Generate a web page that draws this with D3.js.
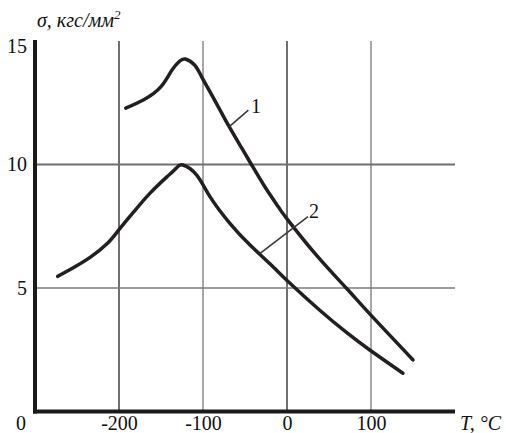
<!DOCTYPE html>
<html>
<head>
<meta charset="utf-8">
<script src="https://cdn.jsdelivr.net/npm/d3@7/dist/d3.min.js"></script>
<style>
  html, body { margin: 0; padding: 0; background: #fff; }
  svg { display: block; }
  text { font-family: "Liberation Serif", "Times New Roman", serif; fill: #111; }
</style>
</head>
<body>
<svg id="chart" width="506" height="433"></svg>
<script>
// Temperature ticks (°C) and stress ticks (kgf/mm²)
const xTicks = [-200, -100, 0, 100];
const yTicks = [5, 10, 15];
const yGrid = [5, 10];

// Curve 1: stress vs temperature
const curve1T = [-192, -170, -150, -137, -128, -121, -110, -101.6, -86, -70, -54, -42, -26, -10, 0, 35, 70.8, 98.5, 150];
const curve1S = [12.28, 12.63, 13.15, 13.82, 14.18, 14.27, 14.03, 13.55, 12.6, 11.6, 10.67, 9.98, 9.08, 8.27, 7.8, 6.33, 4.99, 3.95, 2.09];

// Curve 2
const curve2T = [-273, -254, -234, -214, -200, -182, -163, -143, -132, -124, -107.5, -91.7, -68, -44, -20, 3.6, 39, 70.8, 98.5, 138];
const curve2S = [5.47, 5.83, 6.25, 6.8, 7.36, 8.1, 8.84, 9.5, 9.85, 9.98, 9.57, 8.7, 7.62, 6.74, 5.97, 5.19, 4.1, 3.2, 2.49, 1.55];

// Curve labels with leader lines (data units)
const labelNames = ["1", "2"];
const leaderFrom = [[-68, 11.55], [-32, 6.4]];
const leaderTo = [[-46, 12.2], [25, 7.89]];
const labelAt = [[-37, 12.08], [32, 7.83]];

const svg = d3.select("#chart");
const x = d3.scaleLinear().domain([-300, 200]).range([35, 455]);
const y = d3.scaleLinear().domain([0, 15]).range([411.5, 41]);

// grid
svg.append("g").selectAll("line").data(xTicks).join("line")
  .attr("x1", d => x(d)).attr("x2", d => x(d))
  .attr("y1", y(15)).attr("y2", y(0))
  .attr("stroke", (d, i) => i % 2 === 0 ? "#6f6f6f" : "#8a8a8a")
  .attr("stroke-width", (d, i) => i % 2 === 0 ? 2 : 1.5);

svg.append("g").selectAll("line").data(yGrid).join("line")
  .attr("x1", x(-300)).attr("x2", x(200))
  .attr("y1", d => y(d)).attr("y2", d => y(d))
  .attr("stroke", d => d === 10 ? "#6f6f6f" : "#7d7d7d")
  .attr("stroke-width", d => d === 10 ? 2 : 1.5);

// axes
const gx = svg.append("g").attr("transform", `translate(0,${y(0)})`)
  .call(d3.axisBottom(x).tickValues(xTicks).tickSize(0).tickFormat(d => String(d)));
gx.select(".domain").remove();
gx.selectAll("text").attr("font-size", 20).attr("dy", null).attr("y", 18.5)
  .attr("font-family", "Liberation Serif, serif").attr("fill", "#111");

const gy = svg.append("g").attr("transform", `translate(${x(-300)},0)`)
  .call(d3.axisLeft(y).tickValues(yTicks).tickSize(0).tickPadding(8).tickFormat(d => String(d)));
gy.select(".domain").remove();
gy.selectAll("text").attr("font-size", 20)
  .attr("font-family", "Liberation Serif, serif").attr("fill", "#111")
  .attr("dy", d => d === 15 ? "0.55em" : "0.32em");

// origin label
svg.append("text").attr("x", x(-300) - 14).attr("y", y(0) + 18.5)
  .attr("text-anchor", "middle").attr("font-size", 20).text("0");

// axis lines
svg.append("line").attr("x1", x(-300)).attr("x2", x(-300))
  .attr("y1", y(15) - 1).attr("y2", y(0) + 2)
  .attr("stroke", "#1a1a1a").attr("stroke-width", 4);
svg.append("line").attr("x1", x(-300) - 2).attr("x2", x(200))
  .attr("y1", y(0)).attr("y2", y(0))
  .attr("stroke", "#1a1a1a").attr("stroke-width", 4);

// axis titles
const yt = svg.append("text").attr("x", 37).attr("y", 27)
  .attr("font-size", 20).attr("font-style", "italic");
yt.append("tspan").text("σ, кгс/мм");
yt.append("tspan").attr("font-size", 13).attr("dy", -8).text("2");

svg.append("text").attr("x", 460).attr("y", y(0) + 18.5)
  .attr("font-size", 20).attr("font-style", "italic").text("T, °C");

// curves
const line = d3.line().x(d => x(d[0])).y(d => y(d[1])).curve(d3.curveNatural);
const series = [d3.zip(curve1T, curve1S), d3.zip(curve2T, curve2S)];
svg.append("g").selectAll("path").data(series).join("path")
  .attr("d", line).attr("fill", "none")
  .attr("stroke", "#231f20").attr("stroke-width", 3.5)
  .attr("stroke-linecap", "round").attr("stroke-linejoin", "round");

// labels
svg.append("g").selectAll("line").data(labelNames).join("line")
  .attr("x1", (d, i) => x(leaderFrom[i][0])).attr("y1", (d, i) => y(leaderFrom[i][1]))
  .attr("x2", (d, i) => x(leaderTo[i][0])).attr("y2", (d, i) => y(leaderTo[i][1]))
  .attr("stroke", "#3a3a3a").attr("stroke-width", 1.6);
svg.append("g").selectAll("text").data(labelNames).join("text")
  .attr("x", (d, i) => x(labelAt[i][0])).attr("y", (d, i) => y(labelAt[i][1]))
  .attr("text-anchor", "middle").attr("font-size", 20).text(d => d);
</script>
</body>
</html>
